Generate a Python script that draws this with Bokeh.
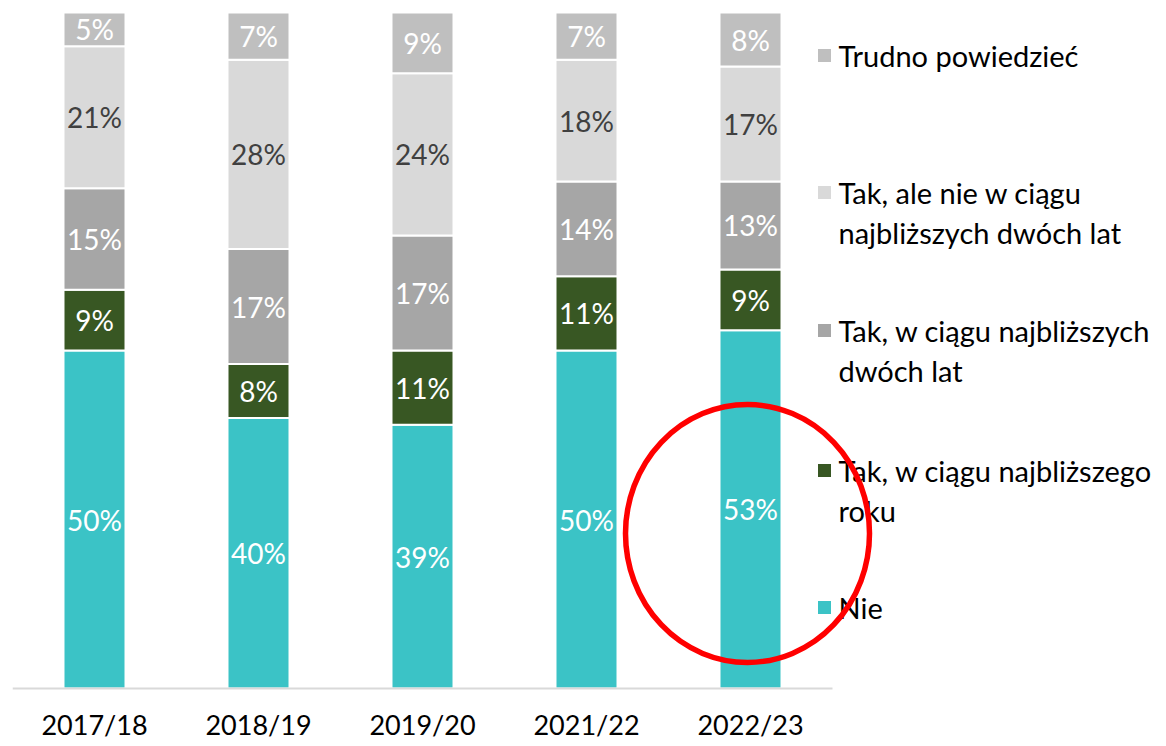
from bokeh.plotting import figure
from bokeh.models import FixedTicker, ColumnDataSource
from bokeh.core.properties import value
from bokeh.embed import file_html
from bokeh.resources import INLINE
import numpy as np

# ---- data ----
categories = ["2017/18", "2018/19", "2019/20", "2021/22", "2022/23"]
series = ["Nie", "Tak, w ciągu najbliższego roku", "Tak, w ciągu najbliższych dwóch lat",
          "Tak, ale nie w ciągu najbliższych dwóch lat", "Trudno powiedzieć"]
nie = [50, 40, 39, 50, 53]
tak_rok = [9, 8, 11, 11, 9]
tak_dwa = [15, 17, 17, 14, 13]
tak_ale_nie = [21, 28, 24, 18, 17]
trudno = [5, 7, 9, 7, 8]
legend_labels = ["Nie", "Tak, w ciągu najbliższego\nroku", "Tak, w ciągu najbliższych\ndwóch lat",
                 "Tak, ale nie w ciągu\nnajbliższych dwóch lat", "Trudno powiedzieć"]

colors = ["#3BC3C6", "#385723", "#A6A6A6", "#D9D9D9", "#BFBFBF"]
label_colors = ["white", "white", "white", "#404040", "white"]
FONT = "Lato"

# ---- geometry (page pixels) ----
LEFT = 12
TOP = 8
PX_PER_CAT = 164.0
PX_PER_PCT = 6.76
FRAME_W = 1146
FRAME_H = 682
x_end = FRAME_W / PX_PER_CAT
y_end = 100 + (12 - TOP) / PX_PER_PCT
y_start = y_end - FRAME_H / PX_PER_PCT


def px2x(px):
    return (px - 12) / PX_PER_CAT


def py2y(py):
    return (688 - py) / PX_PER_PCT


p = figure(frame_width=FRAME_W, frame_height=FRAME_H, x_range=(0, x_end), y_range=(y_start, y_end),
           output_backend="svg", toolbar_location=None,
           min_border_left=LEFT, min_border_right=0, min_border_top=TOP, min_border_bottom=0)
p.background_fill_color = "white"
p.border_fill_color = "white"
p.outline_line_color = None
p.grid.visible = False
p.yaxis.visible = False

xs = [i + 0.5 for i in range(len(categories))]
data = {"x": xs}
vals = [nie, tak_rok, tak_dwa, tak_ale_nie, trudno]
keys = ["s%d" % i for i in range(len(series))]
for k, v in zip(keys, vals):
    data[k] = v
src = ColumnDataSource(data)
p.vbar_stack(keys, x="x", width=62 / PX_PER_CAT, source=src, color=colors,
             line_color="white", line_width=2)

# baseline
p.segment(x0=[0], y0=[0], x1=[len(categories)], y1=[0], line_color="#D9D9D9", line_width=2)

# data labels
arr = np.array(vals, dtype=float)
cum = np.cumsum(arr, axis=0)
for i in range(len(series)):
    mids = cum[i] - arr[i] / 2
    p.text(x=xs, y=list(mids), text=["%d%%" % v for v in vals[i]],
           text_align="center", text_baseline="middle", text_font=value(FONT),
           text_font_size="28px", text_color=label_colors[i])

# x axis
p.xaxis.ticker = FixedTicker(ticks=xs)
p.xaxis.major_label_overrides = {x: c for x, c in zip(xs, categories)}
p.xaxis.axis_line_color = None
p.xaxis.major_tick_line_color = None
p.xaxis.minor_tick_line_color = None
p.xaxis.major_label_standoff = 11
p.xaxis.major_label_text_font = FONT
p.xaxis.major_label_text_font_size = "27px"
p.xaxis.major_label_text_color = "black"

# legend (manual)
leg_py = [607, 470, 330, 192, 55]
for i in range(len(series)):
    p.scatter(x=[px2x(824)], y=[py2y(leg_py[i])], marker="square", size=13,
              fill_color=colors[i], line_color=None)
    p.text(x=[px2x(838)], y=[py2y(leg_py[i] - 18)], text=[legend_labels[i]],
           text_align="left", text_baseline="top", text_font=value(FONT),
           text_font_size="29px", text_color="black", text_line_height=1.17)

# red ellipse annotation
p.ellipse(x=[px2x(747)], y=[py2y(533)], width=244 / PX_PER_CAT, height=258 / PX_PER_PCT,
          fill_color=None, line_color="#FF0000", line_width=5.5)

open("out.html", "w").write(file_html(p, INLINE))
